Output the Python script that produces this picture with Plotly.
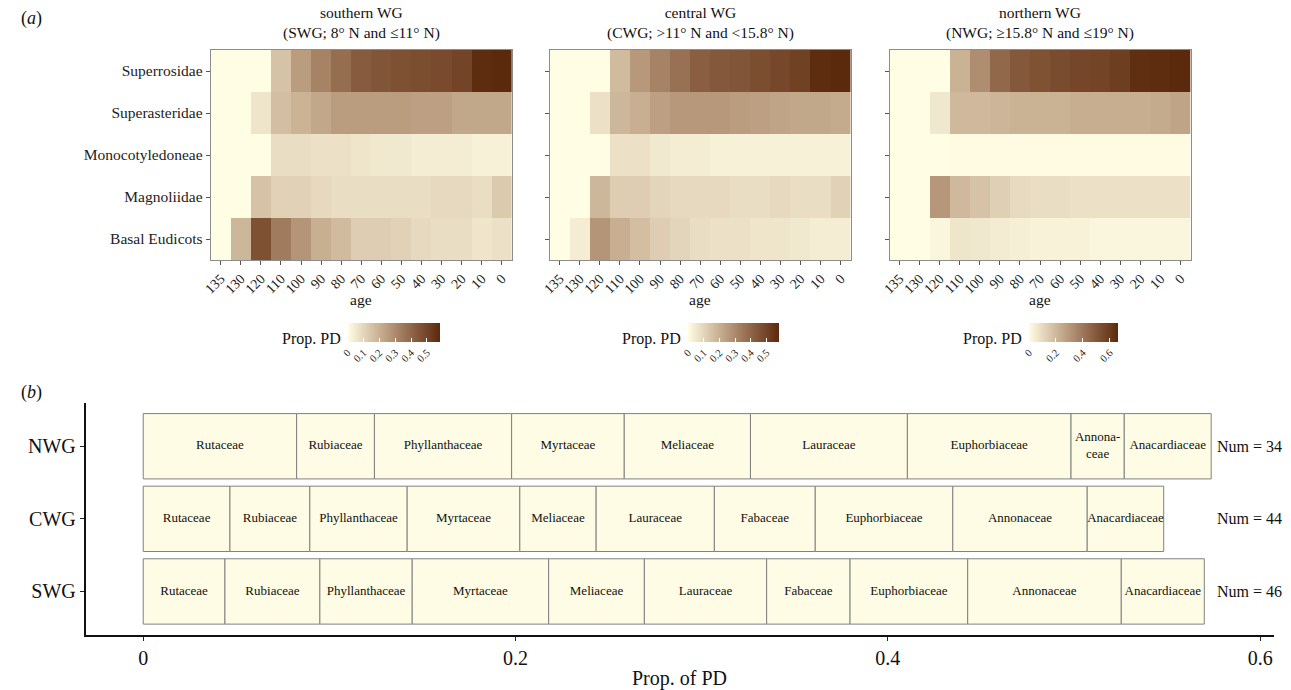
import numpy as np
import plotly.graph_objects as go

# ---------------------------------------------------------------- data
ages = ["135", "130", "120", "110", "100", "90", "80", "70", "60", "50", "40", "30", "20", "10", "0"]
clades = ["Superrosidae", "Superasteridae", "Monocotyledoneae", "Magnoliidae", "Basal Eudicots"]

# proportion of phylogenetic diversity per clade (rows) through time (columns)
swg_pd = [
    [0, 0, 0, 0.15, 0.25, 0.32, 0.38, 0.43, 0.45, 0.46, 0.47, 0.48, 0.50, 0.57, 0.58],
    [0, 0, 0.06, 0.16, 0.19, 0.22, 0.25, 0.25, 0.25, 0.25, 0.24, 0.24, 0.22, 0.22, 0.22],
    [0, 0, 0, 0.08, 0.08, 0.07, 0.07, 0.06, 0.05, 0.05, 0.04, 0.04, 0.04, 0.03, 0.03],
    [0, 0, 0.15, 0.11, 0.11, 0.09, 0.08, 0.08, 0.08, 0.08, 0.08, 0.09, 0.09, 0.08, 0.13],
    [0, 0.18, 0.46, 0.34, 0.27, 0.20, 0.17, 0.12, 0.12, 0.11, 0.09, 0.08, 0.08, 0.06, 0.07],
]
cwg_pd = [
    [0, 0, 0, 0.17, 0.26, 0.32, 0.37, 0.42, 0.44, 0.45, 0.47, 0.49, 0.51, 0.57, 0.58],
    [0, 0, 0.07, 0.18, 0.20, 0.24, 0.26, 0.26, 0.26, 0.25, 0.24, 0.23, 0.22, 0.22, 0.21],
    [0, 0, 0, 0.07, 0.07, 0.05, 0.04, 0.04, 0.03, 0.03, 0.03, 0.03, 0.03, 0.03, 0.03],
    [0, 0, 0.18, 0.12, 0.12, 0.10, 0.09, 0.09, 0.09, 0.08, 0.08, 0.09, 0.08, 0.08, 0.11],
    [0, 0.04, 0.27, 0.20, 0.16, 0.12, 0.10, 0.08, 0.07, 0.07, 0.06, 0.06, 0.05, 0.04, 0.04],
]
nwg_pd = [
    [0, 0, 0, 0.22, 0.33, 0.45, 0.50, 0.52, 0.54, 0.56, 0.57, 0.59, 0.64, 0.65, 0.66],
    [0, 0, 0.06, 0.20, 0.20, 0.21, 0.22, 0.22, 0.22, 0.23, 0.23, 0.23, 0.23, 0.24, 0.26],
    [0, 0, 0, 0.005, 0.005, 0.005, 0.005, 0.005, 0.005, 0.005, 0.005, 0.005, 0.005, 0.005, 0.005],
    [0, 0, 0.30, 0.20, 0.17, 0.13, 0.10, 0.09, 0.09, 0.08, 0.08, 0.08, 0.08, 0.08, 0.08],
    [0, 0, 0.02, 0.07, 0.06, 0.05, 0.04, 0.03, 0.03, 0.03, 0.02, 0.02, 0.02, 0.02, 0.02],
]
region_titles = [
    "southern WG<br>(SWG; 8° N and ≤11° N)",
    "central WG<br>(CWG; &gt;11° N and &lt;15.8° N)",
    "northern WG<br>(NWG; ≥15.8° N and ≤19° N)",
]
cbar_dticks = [0.1, 0.1, 0.2]

# family contributions to PD, stacked left to right
regions = ["SWG", "CWG", "NWG"]
swg_families = ["Rutaceae", "Rubiaceae", "Phyllanthaceae", "Myrtaceae", "Meliaceae", "Lauraceae",
                "Fabaceae", "Euphorbiaceae", "Annonaceae", "Anacardiaceae"]
swg_prop = [0.0439, 0.0510, 0.0496, 0.0733, 0.0514, 0.0657, 0.0448, 0.0632, 0.0825, 0.0446]
cwg_families = ["Rutaceae", "Rubiaceae", "Phyllanthaceae", "Myrtaceae", "Meliaceae", "Lauraceae",
                "Fabaceae", "Euphorbiaceae", "Annonaceae", "Anacardiaceae"]
cwg_prop = [0.0466, 0.0429, 0.0523, 0.0605, 0.0410, 0.0635, 0.0542, 0.0739, 0.0722, 0.0411]
nwg_families = ["Rutaceae", "Rubiaceae", "Phyllanthaceae", "Myrtaceae", "Meliaceae", "Lauraceae",
                "Euphorbiaceae", "Annona-<br>ceae", "Anacardiaceae"]
nwg_prop = [0.0824, 0.0418, 0.0737, 0.0605, 0.0678, 0.0843, 0.0879, 0.0286, 0.0467]
num_species = [46, 44, 34]

# ---------------------------------------------------------------- styling helpers
W, H = 1291, 690
SERIF = "Liberation Serif"
LOW, HIGH = "#FFFDE4", "#5B2A0C"
CREAM = "#FEFCE4"


def fx(px):
    return px / W


def fy(px):
    return 1 - px / H


def _hex_to_lab(h):
    rgb = np.array([int(h[i:i + 2], 16) for i in (1, 3, 5)]) / 255.0
    lin = np.where(rgb <= 0.04045, rgb / 12.92, ((rgb + 0.055) / 1.055) ** 2.4)
    m = np.array([[0.4124, 0.3576, 0.1805], [0.2126, 0.7152, 0.0722], [0.0193, 0.1192, 0.9505]])
    xyz = m @ lin / np.array([0.95047, 1.0, 1.08883])
    f = np.where(xyz > 0.008856, np.cbrt(xyz), 7.787 * xyz + 16 / 116)
    return np.array([116 * f[1] - 16, 500 * (f[0] - f[1]), 200 * (f[1] - f[2])])


def _lab_to_hex(lab):
    L, a, b = lab
    fyv = (L + 16) / 116
    f = np.array([fyv + a / 500, fyv, fyv - b / 200])
    xyz = np.where(f ** 3 > 0.008856, f ** 3, (f - 16 / 116) / 7.787) * np.array([0.95047, 1.0, 1.08883])
    mi = np.array([[3.2406, -1.5372, -0.4986], [-0.9689, 1.8758, 0.0415], [0.0557, -0.2040, 1.0570]])
    lin = np.clip(mi @ xyz, 0, 1)
    rgb = np.where(lin <= 0.0031308, 12.92 * lin, 1.055 * lin ** (1 / 2.4) - 0.055)
    return "#%02x%02x%02x" % tuple(int(round(c * 255)) for c in np.clip(rgb, 0, 1))


lab_lo, lab_hi = _hex_to_lab(LOW), _hex_to_lab(HIGH)
colorscale = [[t, _lab_to_hex(lab_lo + (lab_hi - lab_lo) * t)] for t in np.linspace(0, 1, 21)]

fig = go.Figure()

# ---------------------------------------------------------------- panel (a): heatmaps
hm_x = [(204, 507), (545, 848), (887, 1190)]
hm_top, hm_bot = 50, 260
cbar_left = [341.7, 684.3, 1027.3]
cbar_len = [92.3, 91.7, 90.0]
layout_axes = {}
annotations = []


def txt(size):
    return dict(family=SERIF, size=size, color="#111")


for i, (vals, title) in enumerate(zip([swg_pd, cwg_pd, nwg_pd], region_titles)):
    k = "" if i == 0 else str(i + 1)
    z = np.array(vals)
    fig.add_trace(go.Heatmap(
        z=z, x=ages, y=clades, xaxis="x" + k, yaxis="y" + k,
        zmin=0, zmax=float(z.max()), colorscale=colorscale, hoverongaps=False,
        colorbar=dict(
            orientation="h", x=fx(cbar_left[i]), xanchor="left", y=fy(322.7), yanchor="top",
            len=cbar_len[i] / W, lenmode="fraction", thickness=19, outlinewidth=0,
            xpad=0, ypad=0, ticks="inside", ticklen=4, tickcolor="white", tick0=0,
            dtick=cbar_dticks[i], tickangle=-45,
            tickfont=dict(family=SERIF, size=10.5, color="#222"),
        ),
    ))
    x0, x1 = hm_x[i]
    layout_axes["xaxis" + k] = dict(
        domain=[fx(x0), fx(x1)], anchor="y" + k, type="category",
        categoryorder="array", categoryarray=ages, tickangle=-45,
        ticks="outside", ticklen=4, tickcolor="#555", showgrid=False, zeroline=False,
        showline=True, mirror=True, linecolor="#8c8c8c", linewidth=1,
        tickfont=dict(family=SERIF, size=14, color="#222"),
    )
    layout_axes["yaxis" + k] = dict(
        domain=[fy(hm_bot), fy(hm_top)], anchor="x" + k, type="category",
        categoryorder="array", categoryarray=clades[::-1],
        ticks="outside", ticklen=4, tickcolor="#555", showgrid=False, zeroline=False,
        showline=True, mirror=True, linecolor="#8c8c8c", linewidth=1,
        showticklabels=(i == 0),
        tickfont=dict(family=SERIF, size=15.5, color="#222"),
    )
    cx = fx((x0 + x1) / 2)
    annotations.append(dict(text=title, x=cx, y=fy(44), xref="paper", yref="paper",
                            xanchor="center", yanchor="bottom", showarrow=False, font=txt(15.5)))
    annotations.append(dict(text="age", x=cx, y=fy(299), xref="paper", yref="paper",
                            xanchor="center", yanchor="middle", showarrow=False, font=txt(15.5)))
    annotations.append(dict(text="Prop. PD", x=fx(cbar_left[i] - 5), y=fy(339), xref="paper",
                            yref="paper", xanchor="right", yanchor="middle", showarrow=False,
                            font=txt(16)))

# ---------------------------------------------------------------- panel (b): stacked family bars
rows = [
    ("SWG", swg_families, swg_prop),
    ("CWG", cwg_families, cwg_prop),
    ("NWG", nwg_families, nwg_prop),
]
for name, fams, props in rows:
    props = np.array(props)
    starts = np.concatenate([[0], np.cumsum(props)[:-1]])
    fig.add_trace(go.Bar(
        y=[name] * len(props), x=props, base=starts, orientation="h", width=0.9,
        marker=dict(color=CREAM, line=dict(color="#808080", width=1)),
        xaxis="x4", yaxis="y4", hoverinfo="skip", showlegend=False,
    ))
    fig.add_trace(go.Scatter(
        y=[name] * len(props), x=starts + props / 2, mode="text", text=fams,
        textposition="middle center", textfont=txt(13),
        xaxis="x4", yaxis="y4", hoverinfo="skip", showlegend=False,
    ))

for name, n in zip(regions, num_species):
    annotations.append(dict(text=f"Num = {n}", x=0.5755, y=name, xref="x4", yref="y4",
                            xanchor="left", yanchor="middle", showarrow=False, font=txt(16)))

layout_axes["xaxis4"] = dict(
    domain=[fx(78), fx(1274)], anchor="y4", range=[-0.031, 0.6075],
    tickvals=[0, 0.2, 0.4, 0.6], ticktext=["0", "0.2", "0.4", "0.6"],
    ticks="outside", ticklen=4, tickcolor="#222", showgrid=False, zeroline=False,
    showline=True, linecolor="#111", linewidth=1.5,
    tickfont=dict(family=SERIF, size=20, color="#111"),
)
layout_axes["yaxis4"] = dict(
    domain=[fy(635), fy(402.7)], anchor="x4", type="category",
    categoryorder="array", categoryarray=regions, range=[-0.6, 2.6],
    ticks="outside", ticklen=4, tickcolor="#222", showgrid=False, zeroline=False,
    showline=True, linecolor="#111", linewidth=1.5,
    tickfont=dict(family=SERIF, size=20, color="#111"),
)
annotations.append(dict(text="Prop. of PD", x=fx(676), y=fy(678), xref="paper", yref="paper",
                        xanchor="center", yanchor="middle", showarrow=False, font=txt(20)))

# panel tags
annotations.append(dict(text="(<i>a</i>)", x=fx(11), y=fy(19), xref="paper", yref="paper",
                        xanchor="left", yanchor="middle", showarrow=False, font=txt(18)))
annotations.append(dict(text="(<i>b</i>)", x=fx(11), y=fy(392), xref="paper", yref="paper",
                        xanchor="left", yanchor="middle", showarrow=False, font=txt(18)))

fig.update_layout(
    width=W, height=H, margin=dict(l=0, r=0, t=0, b=0),
    paper_bgcolor="white", plot_bgcolor="white",
    barmode="overlay", showlegend=False,
    font=dict(family=SERIF, color="#111"),
    annotations=annotations,
    **layout_axes,
)

fig.write_html("out.html")
